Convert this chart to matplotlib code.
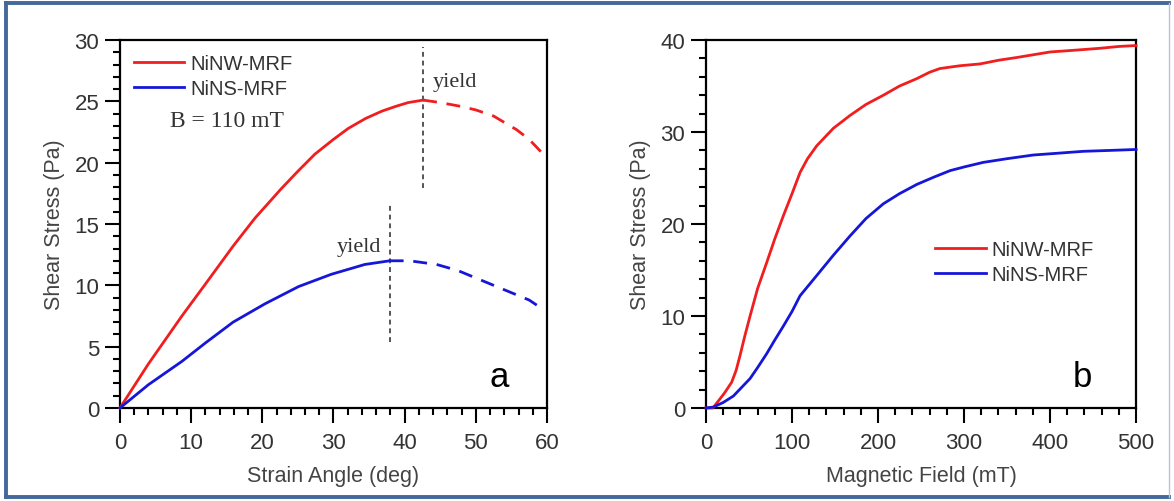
import matplotlib
matplotlib.use("Agg")
import matplotlib.pyplot as plt
from matplotlib.lines import Line2D
from matplotlib.ticker import MultipleLocator

# ---------------- data ----------------
# panel a: shear stress vs strain angle (B = 110 mT)
nw_solid_x = [0, 4.0, 8.7, 12.0, 15.9, 19.0, 22.7, 25.0, 27.4, 30.0, 32.1, 34.5, 36.8, 38.8, 40.5, 42.6]
nw_solid_y = [0, 3.6, 7.5, 10.1, 13.2, 15.5, 17.9, 19.3, 20.7, 21.9, 22.8, 23.6, 24.2, 24.6, 24.9, 25.1]
nw_dash_x = [42.6, 45.0, 47.8, 50.0, 52.5, 55.7, 57.5, 59.3]
nw_dash_y = [25.1, 24.9, 24.6, 24.3, 23.8, 22.7, 21.9, 20.8]

ns_solid_x = [0, 4.0, 8.7, 12.0, 15.9, 20.4, 25.1, 29.7, 34.4, 37.9]
ns_solid_y = [0, 1.9, 3.8, 5.3, 7.0, 8.5, 9.9, 10.9, 11.7, 12.0]
ns_dash_x = [37.9, 40.7, 44.5, 47.5, 50.0, 52.5, 55.0, 57.5, 59.3]
ns_dash_y = [12.0, 12.0, 11.7, 11.2, 10.6, 10.0, 9.4, 8.8, 8.1]

yield_nw_x = 42.6
yield_nw_span = [17.9, 29.4]
yield_ns_x = 37.9
yield_ns_span = [5.4, 16.8]

# panel b: shear stress vs magnetic field
field_nw = [0, 8, 16.3, 22, 29.8, 35, 39.5, 45, 51.2, 60, 70.5, 80, 89.9, 100, 109.3,
            118, 128.7, 148, 167.4, 186, 206.2, 225, 245, 260, 272, 295, 318.6,
            340, 361.3, 400, 430, 458, 480, 500]
nw_field = [0, 0, 1.0, 1.7, 2.8, 4.1, 5.7, 7.8, 10.0, 13.0, 15.8, 18.4, 20.9, 23.3, 25.6,
            27.1, 28.5, 30.4, 31.8, 33.0, 34.0, 35.0, 35.8, 36.5, 36.9, 37.2, 37.4,
            37.8, 38.1, 38.7, 38.9, 39.1, 39.3, 39.4]
field_ns = [0, 8.5, 20, 31.8, 41, 51.2, 60, 70.5, 80, 89.9, 100, 109.3, 128.7, 148, 167.4,
            186, 206.2, 225, 245, 265, 283.7, 300, 322.4, 350, 380.6, 410, 438.7, 470, 500]
ns_field = [0, 0.1, 0.6, 1.3, 2.2, 3.2, 4.4, 5.9, 7.4, 8.9, 10.5, 12.2, 14.4, 16.6, 18.7,
            20.6, 22.2, 23.3, 24.3, 25.1, 25.8, 26.2, 26.7, 27.1, 27.5, 27.7, 27.9, 28.0, 28.1]

labels = ["NiNW-MRF", "NiNS-MRF"]

# ---------------- style ----------------
RED = "#f01e1e"
BLUE = "#1616d8"
TXT = "#333333"
SANS = ["Liberation Sans", "DejaVu Sans"]
SERIF = ["Liberation Serif", "DejaVu Serif"]
plt.rcParams["font.family"] = SANS

fig = plt.figure(figsize=(11.74, 5.02), dpi=100)
axA = fig.add_axes([0.1022, 0.1853, 0.3637, 0.733])
axB = fig.add_axes([0.6014, 0.1853, 0.3663, 0.733])


def style(ax):
    for s in ax.spines.values():
        s.set_linewidth(1.6)
        s.set_color("black")
    ax.tick_params(which="major", direction="out", length=11, width=1.5,
                   labelsize=16, labelcolor=TXT, color="black", pad=4)
    ax.tick_params(which="minor", direction="out", length=5, width=1.5, color="black")
    ax.tick_params(axis="x", which="major", pad=6)
    ax.tick_params(top=False, right=False, which="both")


lw = 2.0
dash = (0, (5, 3.5))
# panel a
axA.plot(nw_solid_x, nw_solid_y, color=RED, lw=lw, label=labels[0], clip_on=False, zorder=3)
axA.plot(nw_dash_x, nw_dash_y, color=RED, lw=lw, ls=dash, clip_on=False, zorder=3)
axA.plot(ns_solid_x, ns_solid_y, color=BLUE, lw=lw, label=labels[1], clip_on=False, zorder=3)
axA.plot(ns_dash_x, ns_dash_y, color=BLUE, lw=lw, ls=dash, clip_on=False, zorder=3)
axA.plot([yield_nw_x, yield_nw_x], yield_nw_span, color="#555555", lw=1.4, ls=(0, (2.5, 2)))
axA.plot([yield_ns_x, yield_ns_x], yield_ns_span, color="#555555", lw=1.4, ls=(0, (2.5, 2)))
axA.text(43.9, 26.6, "yield", family=SERIF, fontsize=16, color=TXT, ha="left", va="center")
axA.text(36.7, 13.2, "yield", family=SERIF, fontsize=16, color=TXT, ha="right", va="center")
axA.text(15.0, 23.4, "B = 110 mT", family=SERIF, fontsize=17, color=TXT, ha="center", va="center")
axA.text(53.3, 2.6, "a", fontsize=25, color="black", ha="center", va="center")
axA.set_xlim(0, 60)
axA.set_ylim(0, 30)
axA.xaxis.set_major_locator(MultipleLocator(10))
axA.xaxis.set_minor_locator(MultipleLocator(2))
axA.yaxis.set_major_locator(MultipleLocator(5))
axA.yaxis.set_minor_locator(MultipleLocator(1))
style(axA)
axA.set_xlabel("Strain Angle (deg)", fontsize=15.5, color="#444444", labelpad=9)
axA.set_ylabel("Shear Stress (Pa)", fontsize=15.5, color="#444444", labelpad=7)
axA.legend(loc="upper left", bbox_to_anchor=(0.0, 1.0), frameon=False, fontsize=14.5,
           handlelength=2.5, handletextpad=0.3, labelspacing=0.3, borderaxespad=0.3,
           labelcolor=TXT)

# panel b
axB.plot(field_nw, nw_field, color=RED, lw=lw, label=labels[0], clip_on=False, zorder=3)
axB.plot(field_ns, ns_field, color=BLUE, lw=lw, label=labels[1], clip_on=False, zorder=3)
axB.text(438, 3.4, "b", fontsize=25, color="black", ha="center", va="center")
axB.set_xlim(0, 500)
axB.set_ylim(0, 40)
axB.xaxis.set_major_locator(MultipleLocator(100))
axB.xaxis.set_minor_locator(MultipleLocator(20))
axB.yaxis.set_major_locator(MultipleLocator(10))
axB.yaxis.set_minor_locator(MultipleLocator(2))
style(axB)
axB.set_xlabel("Magnetic Field (mT)", fontsize=15.5, color="#444444", labelpad=9)
axB.set_ylabel("Shear Stress (Pa)", fontsize=15.5, color="#444444", labelpad=7)
axB.legend(loc="upper left", bbox_to_anchor=(0.5, 0.495), frameon=False, fontsize=14.5,
           handlelength=2.5, handletextpad=0.3, labelspacing=0.3, borderaxespad=0.3,
           labelcolor=TXT)

# figure border
W, H = 1174, 502
bc = "#44679c"
for xs, ys in [([6, 1169], [4, 4]), ([6, 6], [4, 498]), ([6, 1169], [498, 498])]:
    fig.add_artist(Line2D([x / W for x in xs], [1 - y / H for y in ys],
                          color=bc, lw=2.8, transform=fig.transFigure))
fig.add_artist(Line2D([1169 / W, 1169 / W], [1 - 4 / H, 1 - 498 / H],
                      color="#b8c4d4", lw=1.0, transform=fig.transFigure))

fig.savefig("out.png", dpi=100)
